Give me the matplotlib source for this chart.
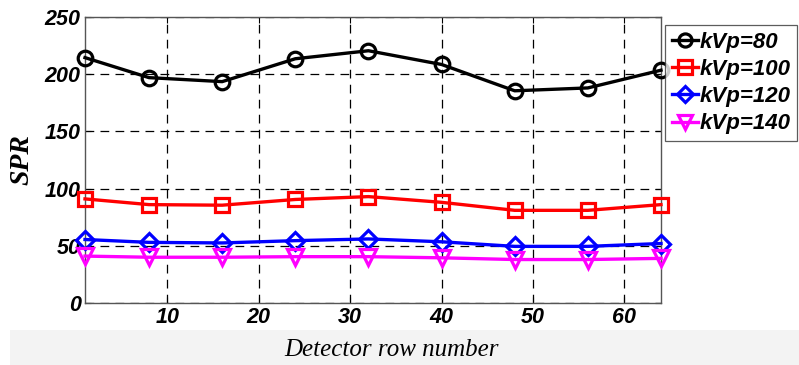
import matplotlib.pyplot as plt
from matplotlib.patches import Rectangle

# detector rows and SPR values for each tube voltage
rows = [1, 8, 16, 24, 32, 40, 48, 56, 64]
spr_80 = [214.5, 197, 193.5, 213.5, 220.5, 208.5, 185.5, 188, 203.5]
spr_100 = [91, 86, 85.5, 90.5, 93, 88, 81, 81, 86]
spr_120 = [55.5, 53, 52.5, 54.5, 56, 53.5, 49.5, 49.5, 52]
spr_140 = [41, 40, 40, 40.5, 40.5, 39.5, 38, 38, 39]
labels = ["kVp=80", "kVp=100", "kVp=120", "kVp=140"]

xticks = [10, 20, 30, 40, 50, 60]
yticks = [0, 50, 100, 150, 200, 250]

fig = plt.figure(figsize=(7.99, 3.65), dpi=100)
fig.patches.append(Rectangle((10/799, 0), 1, 35/365, transform=fig.transFigure,
                             facecolor="#f3f3f3", edgecolor="none", zorder=0))

ax = fig.add_axes([85/799, 1 - 303/365, 576/799, 286/365])

styles = [("black", "o"), ("#ff0000", "s"), ("#0000ff", "D"), ("#ff00ff", "v")]
series = [spr_80, spr_100, spr_120, spr_140]
for vals, lab, (c, m) in zip(series, labels, styles):
    ms = 10.5 if m != "D" else 9
    if m == "v":
        ms = 11.5
    ax.plot(rows, vals, color=c, marker=m, markersize=ms, markerfacecolor="none",
            markeredgewidth=2.3, linewidth=2.4, label=lab, clip_on=False, zorder=3)

ax.set_xlim(1, 64)
ax.set_ylim(0, 250)
ax.set_xticks(xticks)
ax.set_yticks(yticks)
ax.grid(True, color="black", linestyle=(0, (7, 5)), linewidth=0.9)
ax.tick_params(direction="in", top=True, right=True, length=4, width=0.8, pad=3)
for s in ax.spines.values():
    s.set_color("#555555")
    s.set_linewidth(1.0)

tickfont = dict(family="Liberation Sans", weight="bold", style="italic", size=15.5)
ax.set_xticklabels([str(t) for t in xticks], fontdict=tickfont)
ax.set_yticklabels([str(t) for t in yticks], fontdict=tickfont)

fig.text(22/799, 1 - 160/365, "SPR", rotation=90, ha="center", va="center",
         family="Liberation Serif", weight="bold", style="italic", size=20)
fig.text(392/799, 1 - 350/365, "Detector row number", ha="center", va="center",
         family="Liberation Serif", style="italic", size=18)

leg = fig.legend(loc="upper left", bbox_to_anchor=(665/799, 1 - 25/365),
                 prop=dict(family="Liberation Sans", weight="bold", style="italic", size=16),
                 frameon=True, fancybox=False, handlelength=1.2, handletextpad=0.05,
                 borderpad=0.3, labelspacing=0.28, borderaxespad=0, markerscale=0.9)
leg.get_frame().set_edgecolor("#333333")
leg.get_frame().set_linewidth(0.9)

fig.savefig("out.png", dpi=100)
